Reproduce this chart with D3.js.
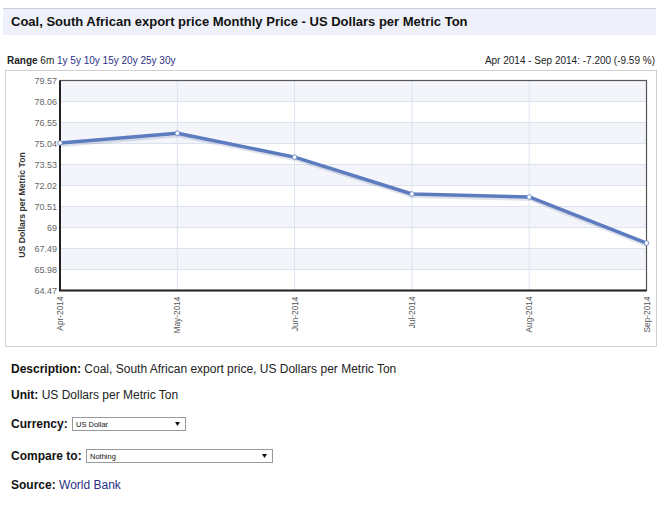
<!DOCTYPE html>
<html>
<head>
<meta charset="utf-8">
<script src="https://cdn.jsdelivr.net/npm/d3@7"></script>
<style>
  body { margin: 0; background: #fff; }
  svg text { font-family: "Liberation Sans", Arial, sans-serif; }
</style>
</head>
<body>
<div id="chart"></div>
<script>
(function () {
  'use strict';

  var months = ['Apr-2014', 'May-2014', 'Jun-2014', 'Jul-2014', 'Aug-2014', 'Sep-2014'];
  var prices = [75.08, 75.78, 74.06, 71.41, 71.20, 67.88];
  var yTickLabels = ['79.57', '78.06', '76.55', '75.04', '73.53', '72.02', '70.51', '69', '67.49', '65.98', '64.47'];
  var rangeLinks = ['1y', '5y', '10y', '15y', '20y', '25y', '30y'];

  var width = 665, height = 510;
  var plot = { left: 60, right: 646.5, top: 80.5, bottom: 290.5 };

  var svg = d3.select('#chart').append('svg').attr('width', width).attr('height', height);

  // Title bar
  svg.append('rect').attr('x', 3).attr('y', 8).attr('width', 653).attr('height', 27).attr('fill', '#eef1f9');
  svg.append('line').attr('x1', 3).attr('x2', 656).attr('y1', 8.5).attr('y2', 8.5).attr('stroke', '#c9ccd4');
  svg.append('text').attr('x', 11).attr('y', 26).text('Coal, South African export price Monthly Price - US Dollars per Metric Ton')
    .attr('font-weight', 'bold').attr('font-size', 13).attr('fill', '#111');

  // Range row
  var rangeText = svg.append('text').attr('x', 7).attr('y', 64).attr('font-size', 10).attr('fill', '#222');
  rangeText.append('tspan').text('Range ').attr('font-weight', 'bold');
  rangeText.append('tspan').text('6m ');
  rangeLinks.forEach(function (r) { rangeText.append('tspan').text(r + ' ').attr('fill', '#2b2f86'); });
  svg.append('text').attr('x', 655).attr('y', 64).attr('text-anchor', 'end').attr('font-size', 10).attr('fill', '#222')
    .text('Apr 2014 - Sep 2014: -7.200 (-9.59 %)');

  // Chart frame
  svg.append('rect').attr('x', 5.5).attr('y', 70.5).attr('width', 651).attr('height', 276)
    .attr('fill', '#fff').attr('stroke', '#cfcfcf');

  var x = d3.scalePoint().domain(months).range([plot.left, plot.right]);
  var y = d3.scaleLinear().domain([64.47, 79.57]).range([plot.bottom, plot.top]);
  var yTicks = yTickLabels.map(Number);

  // Alternating bands
  for (var i = 0; i < yTicks.length - 1; i += 2) {
    svg.append('rect').attr('x', plot.left).attr('width', plot.right - plot.left)
      .attr('y', y(yTicks[i])).attr('height', y(yTicks[i + 1]) - y(yTicks[i]))
      .attr('fill', '#f3f5fb');
  }

  // Grid
  svg.append('g').selectAll('line').data(yTicks).enter().append('line')
    .attr('x1', plot.left).attr('x2', plot.right)
    .attr('y1', function (d) { return y(d); }).attr('y2', function (d) { return y(d); })
    .attr('stroke', '#dce2ee').attr('stroke-width', 1);
  svg.append('g').selectAll('line').data(months).enter().append('line')
    .attr('x1', function (d) { return x(d); }).attr('x2', function (d) { return x(d); })
    .attr('y1', plot.top).attr('y2', plot.bottom)
    .attr('stroke', '#dce2ee').attr('stroke-width', 1);

  // Plot border
  svg.append('rect').attr('x', plot.left).attr('y', plot.top)
    .attr('width', plot.right - plot.left).attr('height', plot.bottom - plot.top)
    .attr('fill', 'none').attr('stroke', '#555').attr('stroke-width', 1.2);
  svg.append('path')
    .attr('d', 'M' + plot.left + ',' + plot.top + 'V' + plot.bottom + 'H' + plot.right)
    .attr('fill', 'none').attr('stroke', '#222').attr('stroke-width', 2);

  // Y axis labels
  var yAxis = svg.append('g').attr('transform', 'translate(' + plot.left + ',0)')
    .call(d3.axisLeft(y).tickValues(yTicks).tickSize(0).tickPadding(3)
      .tickFormat(function (d, i) { return yTickLabels[i]; }));
  yAxis.select('.domain').remove();
  yAxis.selectAll('text').attr('font-family', '"DejaVu Sans", Verdana, sans-serif')
    .attr('font-size', 9).attr('fill', '#666');

  // X axis labels
  var xAxis = svg.append('g').attr('transform', 'translate(0,' + plot.bottom + ')')
    .call(d3.axisBottom(x).tickSize(0).tickPadding(0));
  xAxis.select('.domain').remove();
  xAxis.selectAll('text')
    .attr('font-family', '"DejaVu Sans", Verdana, sans-serif').attr('font-size', 8.3).attr('fill', '#555')
    .attr('transform', 'rotate(-90)').attr('text-anchor', 'end')
    .attr('x', -6).attr('y', 0).attr('dy', '0.32em');

  // Y axis title
  svg.append('text').attr('transform', 'translate(25,205) rotate(-90)')
    .attr('text-anchor', 'middle').attr('font-family', '"DejaVu Sans", Verdana, sans-serif')
    .attr('font-size', 8.7).attr('font-weight', 'bold').attr('fill', '#333')
    .text('US Dollars per Metric Ton');

  // Series
  var pts = months.map(function (m, k) { return { m: m, v: prices[k] }; });
  var line = d3.line().x(function (d) { return x(d.m); }).y(function (d) { return y(d.v); });
  svg.append('path').datum(pts).attr('d', line).attr('transform', 'translate(1,1.5)')
    .attr('fill', 'none').attr('stroke', 'rgba(40,60,120,0.15)').attr('stroke-width', 5);
  svg.append('path').datum(pts).attr('d', line)
    .attr('fill', 'none').attr('stroke', '#5d7cc0').attr('stroke-width', 3.5).attr('stroke-linejoin', 'round');
  svg.append('g').selectAll('circle').data(pts).enter().append('circle')
    .attr('cx', function (d) { return x(d.m); }).attr('cy', function (d) { return y(d.v); })
    .attr('r', 2.3).attr('fill', '#fff').attr('stroke', '#5d7cc0').attr('stroke-width', 0.8);

  // Info rows
  function infoRow(yPos, label, value, color) {
    var t = svg.append('text').attr('x', 11).attr('y', yPos).attr('font-size', 12).attr('fill', '#111');
    t.append('tspan').text(label).attr('font-weight', 'bold');
    if (value) t.append('tspan').text(' ' + value).attr('fill', color || '#222');
    return t;
  }
  infoRow(373, 'Description:', 'Coal, South African export price, US Dollars per Metric Ton');
  infoRow(399, 'Unit:', 'US Dollars per Metric Ton');
  infoRow(428, 'Currency:', '');
  infoRow(460, 'Compare to:', '');
  infoRow(489, 'Source:', 'World Bank', '#2b2f86');

  function selectBox(x0, y0, w, label) {
    svg.append('rect').attr('x', x0 + 0.5).attr('y', y0 + 0.5).attr('width', w).attr('height', 13)
      .attr('fill', '#fff').attr('stroke', '#999');
    svg.append('text').attr('x', x0 + 4).attr('y', y0 + 10).attr('font-size', 7.5).attr('fill', '#111').text(label);
    svg.append('path').attr('d', 'M' + (x0 + w - 10) + ',' + (y0 + 5) + 'h5l-2.5,4z').attr('fill', '#111');
  }
  selectBox(72, 417, 113, 'US Dollar');
  selectBox(86, 449, 186, 'Nothing');
})();
</script>
</body>
</html>
